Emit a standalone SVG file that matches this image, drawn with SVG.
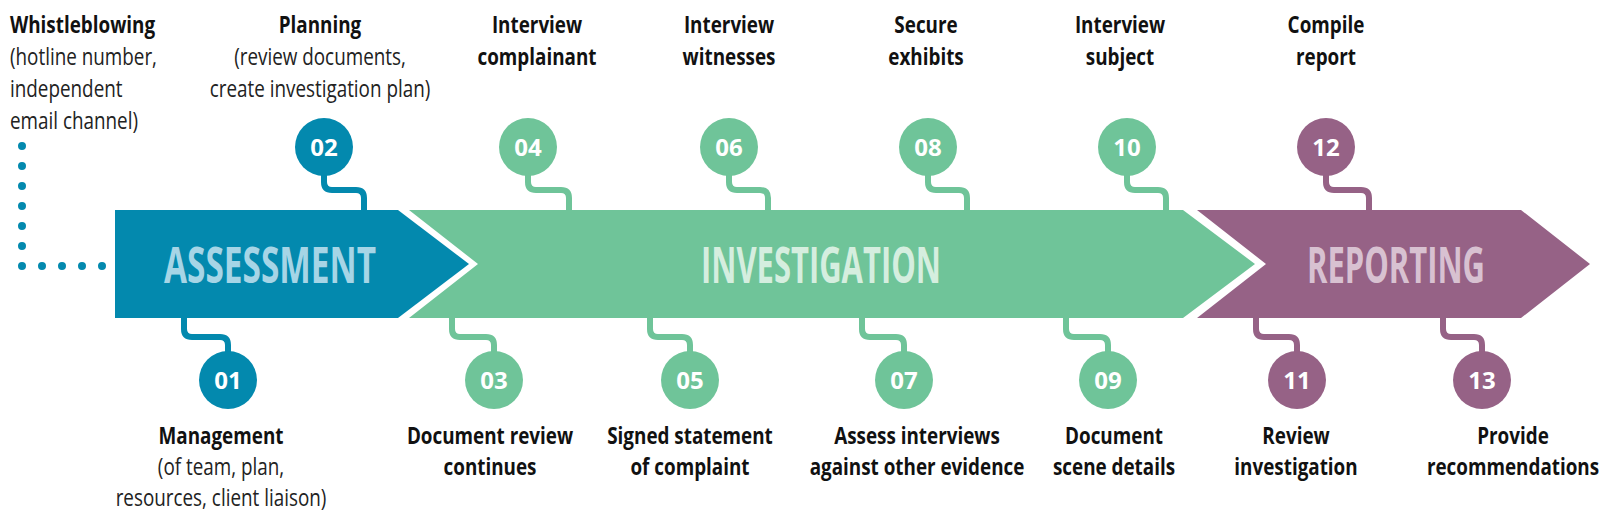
<svg xmlns="http://www.w3.org/2000/svg" width="1600" height="524" viewBox="0 0 1600 524">
<style>
.lb{font-family:"Open Sans","Liberation Sans",sans-serif;font-weight:bold;font-size:23px;fill:#111;text-anchor:middle}
.ln{font-family:"Open Sans","Liberation Sans",sans-serif;font-size:23px;fill:#222;text-anchor:middle}
.num{font-family:"Open Sans","Liberation Sans",sans-serif;font-weight:bold;font-size:24px;fill:#fff;text-anchor:middle}
.band{font-family:"Open Sans","Liberation Sans",sans-serif;font-weight:bold;font-size:50px;text-anchor:middle}
.c{fill:none;stroke-width:6;stroke-linejoin:round}
.b{stroke:#0389ae}.g{stroke:#6fc499}.p{stroke:#966286}
</style>
<g id="connectors">
<path d="M22,146 V266 H104" fill="none" stroke="#0389ae" stroke-width="8" stroke-linecap="round" stroke-dasharray="0 20"/>
<path class="c b" d="M324,170 V182 q0,8 8,8 H356 q8,0 8,8 V212"/>
<path class="c b" d="M184,316 V329 q0,8 8,8 H220 q8,0 8,8 V356"/>
<path class="c g" d="M528,170 V182 q0,8 8,8 H561 q8,0 8,8 V212"/>
<path class="c g" d="M729,170 V182 q0,8 8,8 H760 q8,0 8,8 V212"/>
<path class="c g" d="M928,170 V182 q0,8 8,8 H959 q8,0 8,8 V212"/>
<path class="c g" d="M1127,170 V182 q0,8 8,8 H1158 q8,0 8,8 V212"/>
<path class="c p" d="M1326,170 V182 q0,8 8,8 H1361 q8,0 8,8 V212"/>
<path class="c g" d="M452,316 V329 q0,8 8,8 H486 q8,0 8,8 V356"/>
<path class="c g" d="M650,316 V329 q0,8 8,8 H682 q8,0 8,8 V356"/>
<path class="c g" d="M862,316 V329 q0,8 8,8 H896 q8,0 8,8 V356"/>
<path class="c g" d="M1066,316 V329 q0,8 8,8 H1100 q8,0 8,8 V356"/>
<path class="c p" d="M1256,316 V329 q0,8 8,8 H1289 q8,0 8,8 V356"/>
<path class="c p" d="M1443,316 V329 q0,8 8,8 H1474 q8,0 8,8 V356"/>
</g>
<g id="assessment">
<polygon points="115,210 398,210 469,264 398,318 115,318" fill="#0389ae"/>
<text class="band" x="270" y="283" fill="#a6d5e6" textLength="212" lengthAdjust="spacingAndGlyphs">ASSESSMENT</text>
</g>
<g id="investigation">
<polygon points="409,210 1183,210 1255,264 1183,318 409,318 478,264" fill="#6fc499"/>
<text class="band" x="821" y="283" fill="#d5eedf" textLength="240" lengthAdjust="spacingAndGlyphs">INVESTIGATION</text>
</g>
<g id="reporting">
<polygon points="1197,210 1521,210 1590,264 1521,318 1197,318 1266,264" fill="#966286"/>
<text class="band" x="1396" y="283" fill="#d8c1d1" textLength="178" lengthAdjust="spacingAndGlyphs">REPORTING</text>
</g>
<g id="whistleblowing" transform="translate(10,0) scale(0.82,1)">
<text class="lb" x="0" y="33" style="text-anchor:start">Whistleblowing</text>
<text class="ln" x="0" y="65" style="text-anchor:start">(hotline number,</text>
<text class="ln" x="0" y="97" style="text-anchor:start">independent</text>
<text class="ln" x="0" y="129" style="text-anchor:start">email channel)</text>
</g>
<g id="n01"><circle cx="228" cy="380" r="29" fill="#0389ae"/><text class="num" x="228" y="389">01</text>
<g transform="translate(221,0) scale(0.82,1)"><text class="lb" x="0" y="444">Management</text><text class="ln" x="0" y="475">(of team, plan,</text><text class="ln" x="0" y="506">resources, client liaison)</text></g></g>
<g id="n02"><circle cx="324" cy="147" r="29" fill="#0389ae"/><text class="num" x="324" y="156">02</text>
<g transform="translate(320,0) scale(0.82,1)"><text class="lb" x="0" y="33">Planning</text><text class="ln" x="0" y="65">(review documents,</text><text class="ln" x="0" y="97">create investigation plan)</text></g></g>
<g id="n03"><circle cx="494" cy="380" r="29" fill="#6fc499"/><text class="num" x="494" y="389">03</text>
<g transform="translate(490,0) scale(0.82,1)"><text class="lb" x="0" y="444">Document review</text><text class="lb" x="0" y="475">continues</text></g></g>
<g id="n04"><circle cx="528" cy="147" r="29" fill="#6fc499"/><text class="num" x="528" y="156">04</text>
<g transform="translate(537,0) scale(0.82,1)"><text class="lb" x="0" y="33">Interview</text><text class="lb" x="0" y="65">complainant</text></g></g>
<g id="n05"><circle cx="690" cy="380" r="29" fill="#6fc499"/><text class="num" x="690" y="389">05</text>
<g transform="translate(690,0) scale(0.82,1)"><text class="lb" x="0" y="444">Signed statement</text><text class="lb" x="0" y="475">of complaint</text></g></g>
<g id="n06"><circle cx="729" cy="147" r="29" fill="#6fc499"/><text class="num" x="729" y="156">06</text>
<g transform="translate(729,0) scale(0.82,1)"><text class="lb" x="0" y="33">Interview</text><text class="lb" x="0" y="65">witnesses</text></g></g>
<g id="n07"><circle cx="904" cy="380" r="29" fill="#6fc499"/><text class="num" x="904" y="389">07</text>
<g transform="translate(917,0) scale(0.82,1)"><text class="lb" x="0" y="444">Assess interviews</text><text class="lb" x="0" y="475">against other evidence</text></g></g>
<g id="n08"><circle cx="928" cy="147" r="29" fill="#6fc499"/><text class="num" x="928" y="156">08</text>
<g transform="translate(926,0) scale(0.82,1)"><text class="lb" x="0" y="33">Secure</text><text class="lb" x="0" y="65">exhibits</text></g></g>
<g id="n09"><circle cx="1108" cy="380" r="29" fill="#6fc499"/><text class="num" x="1108" y="389">09</text>
<g transform="translate(1114,0) scale(0.82,1)"><text class="lb" x="0" y="444">Document</text><text class="lb" x="0" y="475">scene details</text></g></g>
<g id="n10"><circle cx="1127" cy="147" r="29" fill="#6fc499"/><text class="num" x="1127" y="156">10</text>
<g transform="translate(1120,0) scale(0.82,1)"><text class="lb" x="0" y="33">Interview</text><text class="lb" x="0" y="65">subject</text></g></g>
<g id="n11"><circle cx="1297" cy="380" r="29" fill="#966286"/><text class="num" x="1297" y="389">11</text>
<g transform="translate(1296,0) scale(0.82,1)"><text class="lb" x="0" y="444">Review</text><text class="lb" x="0" y="475">investigation</text></g></g>
<g id="n12"><circle cx="1326" cy="147" r="29" fill="#966286"/><text class="num" x="1326" y="156">12</text>
<g transform="translate(1326,0) scale(0.82,1)"><text class="lb" x="0" y="33">Compile</text><text class="lb" x="0" y="65">report</text></g></g>
<g id="n13"><circle cx="1482" cy="380" r="29" fill="#966286"/><text class="num" x="1482" y="389">13</text>
<g transform="translate(1513,0) scale(0.82,1)"><text class="lb" x="0" y="444">Provide</text><text class="lb" x="0" y="475">recommendations</text></g></g>
</svg>
